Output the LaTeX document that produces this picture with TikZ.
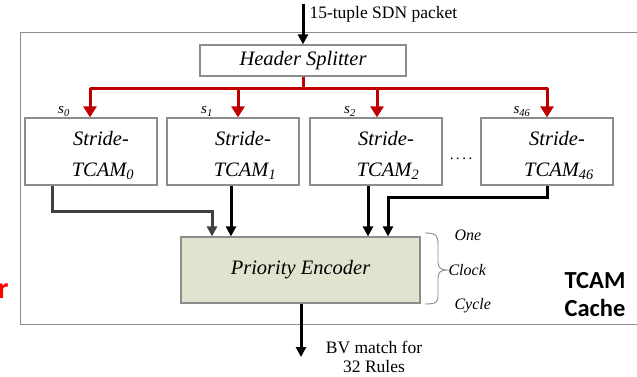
\documentclass[tikz,border=0pt]{standalone}
\usepackage{fontspec}
\setmainfont{Liberation Serif}
\newfontfamily\carlitofont{Carlito}
\usetikzlibrary{arrows.meta,decorations.pathreplacing}
\definecolor{redarr}{HTML}{C00000}
\definecolor{pefill}{HTML}{E0E4CE}
\definecolor{boxgray}{HTML}{8C8C8C}
\definecolor{darkarr}{HTML}{404040}
\begin{document}
\begin{tikzpicture}[x=1pt,y=-1pt,
  blk/.style={draw=boxgray,line width=1.2pt,inner sep=0pt},
  redline/.style={draw=redarr,line width=3pt},
  redarrow/.style={redline,-{Triangle[width=13pt,length=11pt]}},
  blkarrow/.style={draw=black,line width=3pt,-{Triangle[width=10pt,length=10pt]}},
  grayarrow/.style={draw=darkarr,line width=3pt,-{Triangle[width=10pt,length=10pt]}},
  lbl/.style={font=\fontsize{20.5}{24}\selectfont\itshape},
  sl/.style={font=\fontsize{15}{17}\selectfont\itshape,anchor=base},
  brl/.style={font=\fontsize{16}{18}\selectfont\itshape,anchor=base west}
]
\useasboundingbox (0,0) rectangle (637,377);
\begin{scope}
\clip (0,0) rectangle (637,377);
% outer frame
\draw[boxgray,line width=1pt] (640,33) -- (20,33) -- (20,324) -- (640,324);
% red fragment
\node[font=\carlitofont\bfseries\fontsize{30}{30}\selectfont,text=red,anchor=base east] (rfrag) at (12,298) {r};
\end{scope}

% header splitter
\node[blk,minimum width=206pt,minimum height=31pt] (hs) at (303,60.5) {};
\node[lbl] (hst) at (hs.center) {Header Splitter};
\coordinate (inp) at (303,4);
\draw[blkarrow] (inp) -- (hs.north);
\node[font=\fontsize{17.5}{20}\selectfont,anchor=base west] (inpt) at (306,19) {15-tuple SDN packet};

% stride boxes
\foreach \n/\cx/\sub in {s0/91/0,s1/233/1,s2/376/2,s46/547/46}{
  \node[blk,minimum width=132pt,minimum height=67pt] (\n) at (\cx,151.5) {};
  \node[lbl,anchor=base] (\n a) at (\cx+10,146) {Stride-};
  \node[lbl,anchor=base] (\n b) at (\cx+12,176) {TCAM\textsubscript{\sub}};
}
\node[sl] (l0) at (64,114) {s\textsubscript{0}};
\node[sl] (l1) at (207,114) {s\textsubscript{1}};
\node[sl] (l2) at (350,114) {s\textsubscript{2}};
\node[sl] (l46) at (522,114) {s\textsubscript{46}};
\node[font=\fontsize{15}{17}\selectfont,anchor=base] (dots) at (461,160) {.\,.\,.\,.};

% red distribution
\coordinate (rj) at (303,89);
\draw[redline] (hs.south) -- (rj);
\draw[redline] (90,89) -- (548,89);
\draw[redarrow] (90,88) -- (s0.north -| 90,0);
\draw[redarrow] (238,89) -- (s1.north -| 238,0);
\draw[redarrow] (377,89) -- (s2.north -| 377,0);
\draw[redarrow] (547,88) -- (s46.north -| 547,0);

% priority encoder
\node[draw=boxgray,line width=1.2pt,fill=pefill,minimum width=239pt,minimum height=66pt] (pe) at (300.5,270) {};
\node[lbl] (pet) at (pe.center) {Priority Encoder};

% into PE
\draw[grayarrow] (s0.south -| 52,0) -- (52,211) -- (212,211) -- (pe.north -| 212,0);
\draw[blkarrow] (s1.south -| 231,0) -- (pe.north -| 231,0);
\draw[blkarrow] (s2.south -| 368,0) -- (pe.north -| 368,0);
\draw[blkarrow] (s46.south -| 547,0) -- (547,197) -- (388,197) -- (pe.north -| 388,0);

% output
\coordinate (outp) at (301,357);
\draw[blkarrow] (pe.south -| 301,0) -- (outp);
\node[font=\fontsize{17.5}{19}\selectfont,align=center] (outt) at (374,357) {BV match for\\32 Rules};

% brace
\draw[boxgray,line width=0.9pt] (425,233) .. controls (437,233) and (438,236) .. (438,245)
  -- (438,262) .. controls (438,268) and (441,270) .. (447,270)
  .. controls (441,270) and (438,272) .. (438,278) -- (438,295)
  .. controls (438,302) and (437,304) .. (425,304);
\node[brl] (one) at (451,240) {One};
\node[brl] (clock) at (445,275) {Clock};
\node[brl] (cycle) at (451,309) {Cycle};

% TCAM Cache
\node[font=\carlitofont\bfseries\fontsize{24.5}{28}\selectfont,align=center] (tc) at (595,295) {TCAM\\Cache};
\end{tikzpicture}
\end{document}
